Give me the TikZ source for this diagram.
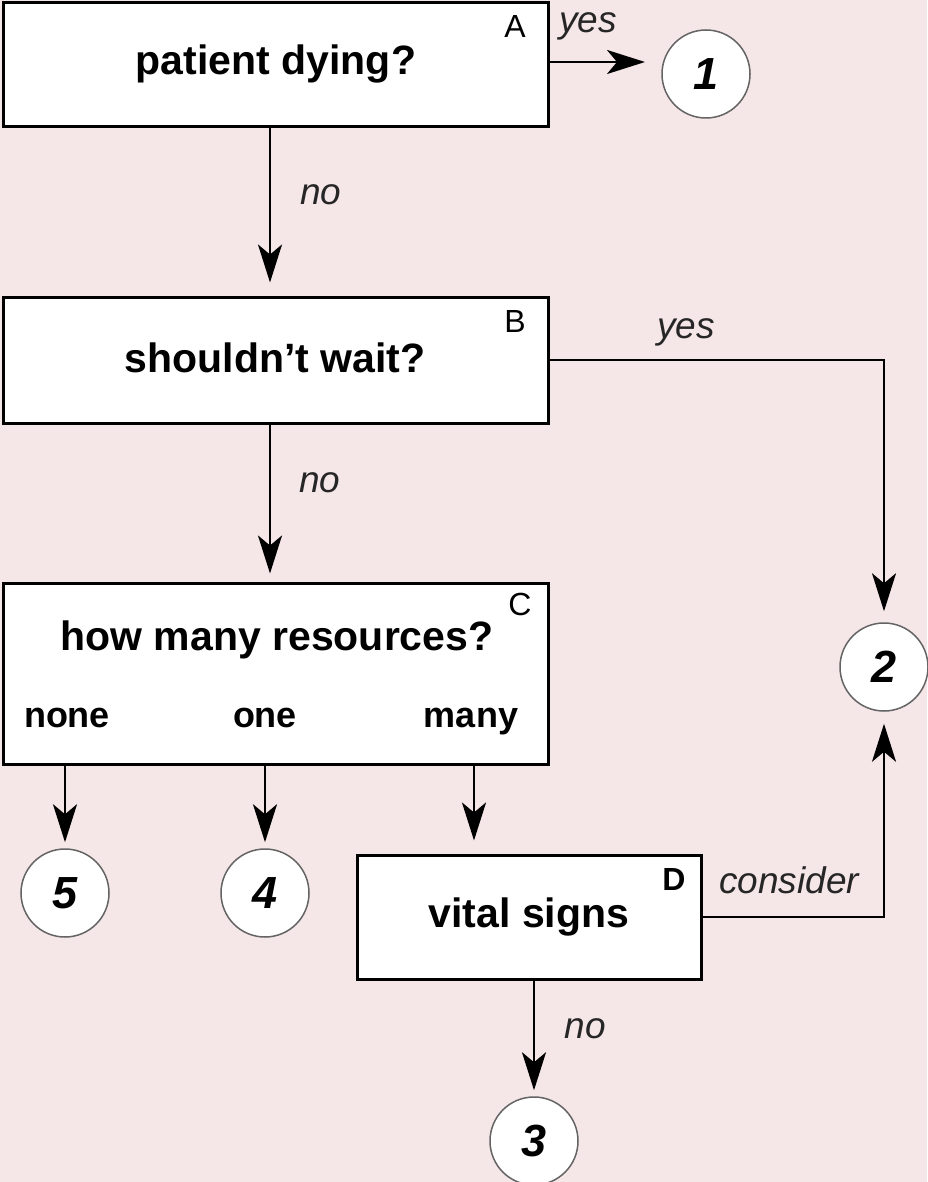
\documentclass[tikz,border=0pt]{standalone}
\usepackage{fontspec}
\setmainfont{Liberation Sans}
\usetikzlibrary{arrows.meta}
\definecolor{bgpink}{RGB}{245,230,232}
\definecolor{ringgray}{RGB}{100,100,100}
\tikzset{
  box/.style={draw=black, line width=3pt, fill=white, inner sep=0pt},
  ring/.style={circle, draw=ringgray, line width=1.5pt, fill=white, minimum size=88pt, inner sep=0pt,
    font=\fontsize{45}{45}\selectfont\bfseries\itshape},
  arr/.style={draw=black, line width=2.6pt, -{Stealth[length=38pt,width=24pt,inset=10pt]}},
  maintxt/.style={anchor=base, inner sep=0pt, font=\fontsize{41}{41}\selectfont\bfseries},
  opttxt/.style={anchor=base, inner sep=0pt, font=\fontsize{36}{36}\selectfont\bfseries},
  lettertxt/.style={anchor=base, inner sep=0pt, font=\fontsize{32}{32}\selectfont},
  lbl/.style={anchor=base, inner sep=0pt, font=\fontsize{37}{37}\selectfont\itshape, text=black!85},
}
\begin{document}
\begin{tikzpicture}[x=1pt, y=-1pt]
\fill[bgpink] (0,0) rectangle (927,1182);
\useasboundingbox (0,0) rectangle (927,1182);

% boxes
\node[box, minimum width=545pt, minimum height=124pt] (A) at (275.5,65) {};
\node[box, minimum width=545pt, minimum height=126pt] (B) at (275.5,360) {};
\node[box, minimum width=545pt, minimum height=181pt] (C) at (275.5,673.5) {};
\node[box, minimum width=344pt, minimum height=124pt] (D) at (529,917) {};

% box texts
\node[maintxt] (tA) at (276,75) {patient dying?};
\node[lettertxt] (lA) at (515,38) {A};
\node[maintxt] (tB) at (275,372) {shouldn’t wait?};
\node[lettertxt] (lB) at (515,332) {B};
\node[maintxt] (tC) at (277,650) {how many resources?};
\node[lettertxt] (lC) at (520,615) {C};
\node[opttxt] (none) at (67,727) {none};
\node[opttxt] (one) at (265,727) {one};
\node[opttxt] (many) at (471,727) {many};
\node[maintxt] (tD) at (529,927) {vital signs};
\node[lettertxt, font=\fontsize{32}{32}\selectfont\bfseries] (lD) at (674,890) {D};

% circles
\node[ring] (c1) at (706,74) {1};
\node[ring] (c2) at (884,667) {2};
\node[ring] (c3) at (534,1141) {3};
\node[ring] (c4) at (265,893) {4};
\node[ring] (c5) at (65,893) {5};

% connectors
\coordinate (t1) at (645,62);
\draw[arr] (t1 -| A.east) -- (t1);
\coordinate (vx) at (270,0);
\draw[arr, shorten >=13pt] (vx |- A.south) -- (vx |- B.north);
\draw[arr, shorten >=8pt] (vx |- B.south) -- (vx |- C.north);
\draw[arr, shorten >=11pt] (B.east) -| (c2.north);
\draw[arr, shorten >=6pt] (c5 |- C.south) -- (c5.north);
\draw[arr, shorten >=6pt] (c4 |- C.south) -- (c4.north);
\coordinate (mx) at (474,0);
\draw[arr, shorten >=13pt] (mx |- C.south) -- (mx |- D.north);
\draw[arr, shorten >=12pt] (D.east) -| (c2.south);
\draw[arr, shorten >=6pt] (c3 |- D.south) -- (c3.north);

% connector labels
\node[lbl] (yes1) at (588,33) {yes};
\node[lbl] (no1) at (321,205) {no};
\node[lbl] (yes2) at (686,338) {yes};
\node[lbl] (no2) at (320,492) {no};
\node[lbl] (cons) at (789,893) {consider};
\node[lbl] (no3) at (585,1038) {no};
\end{tikzpicture}
\end{document}
